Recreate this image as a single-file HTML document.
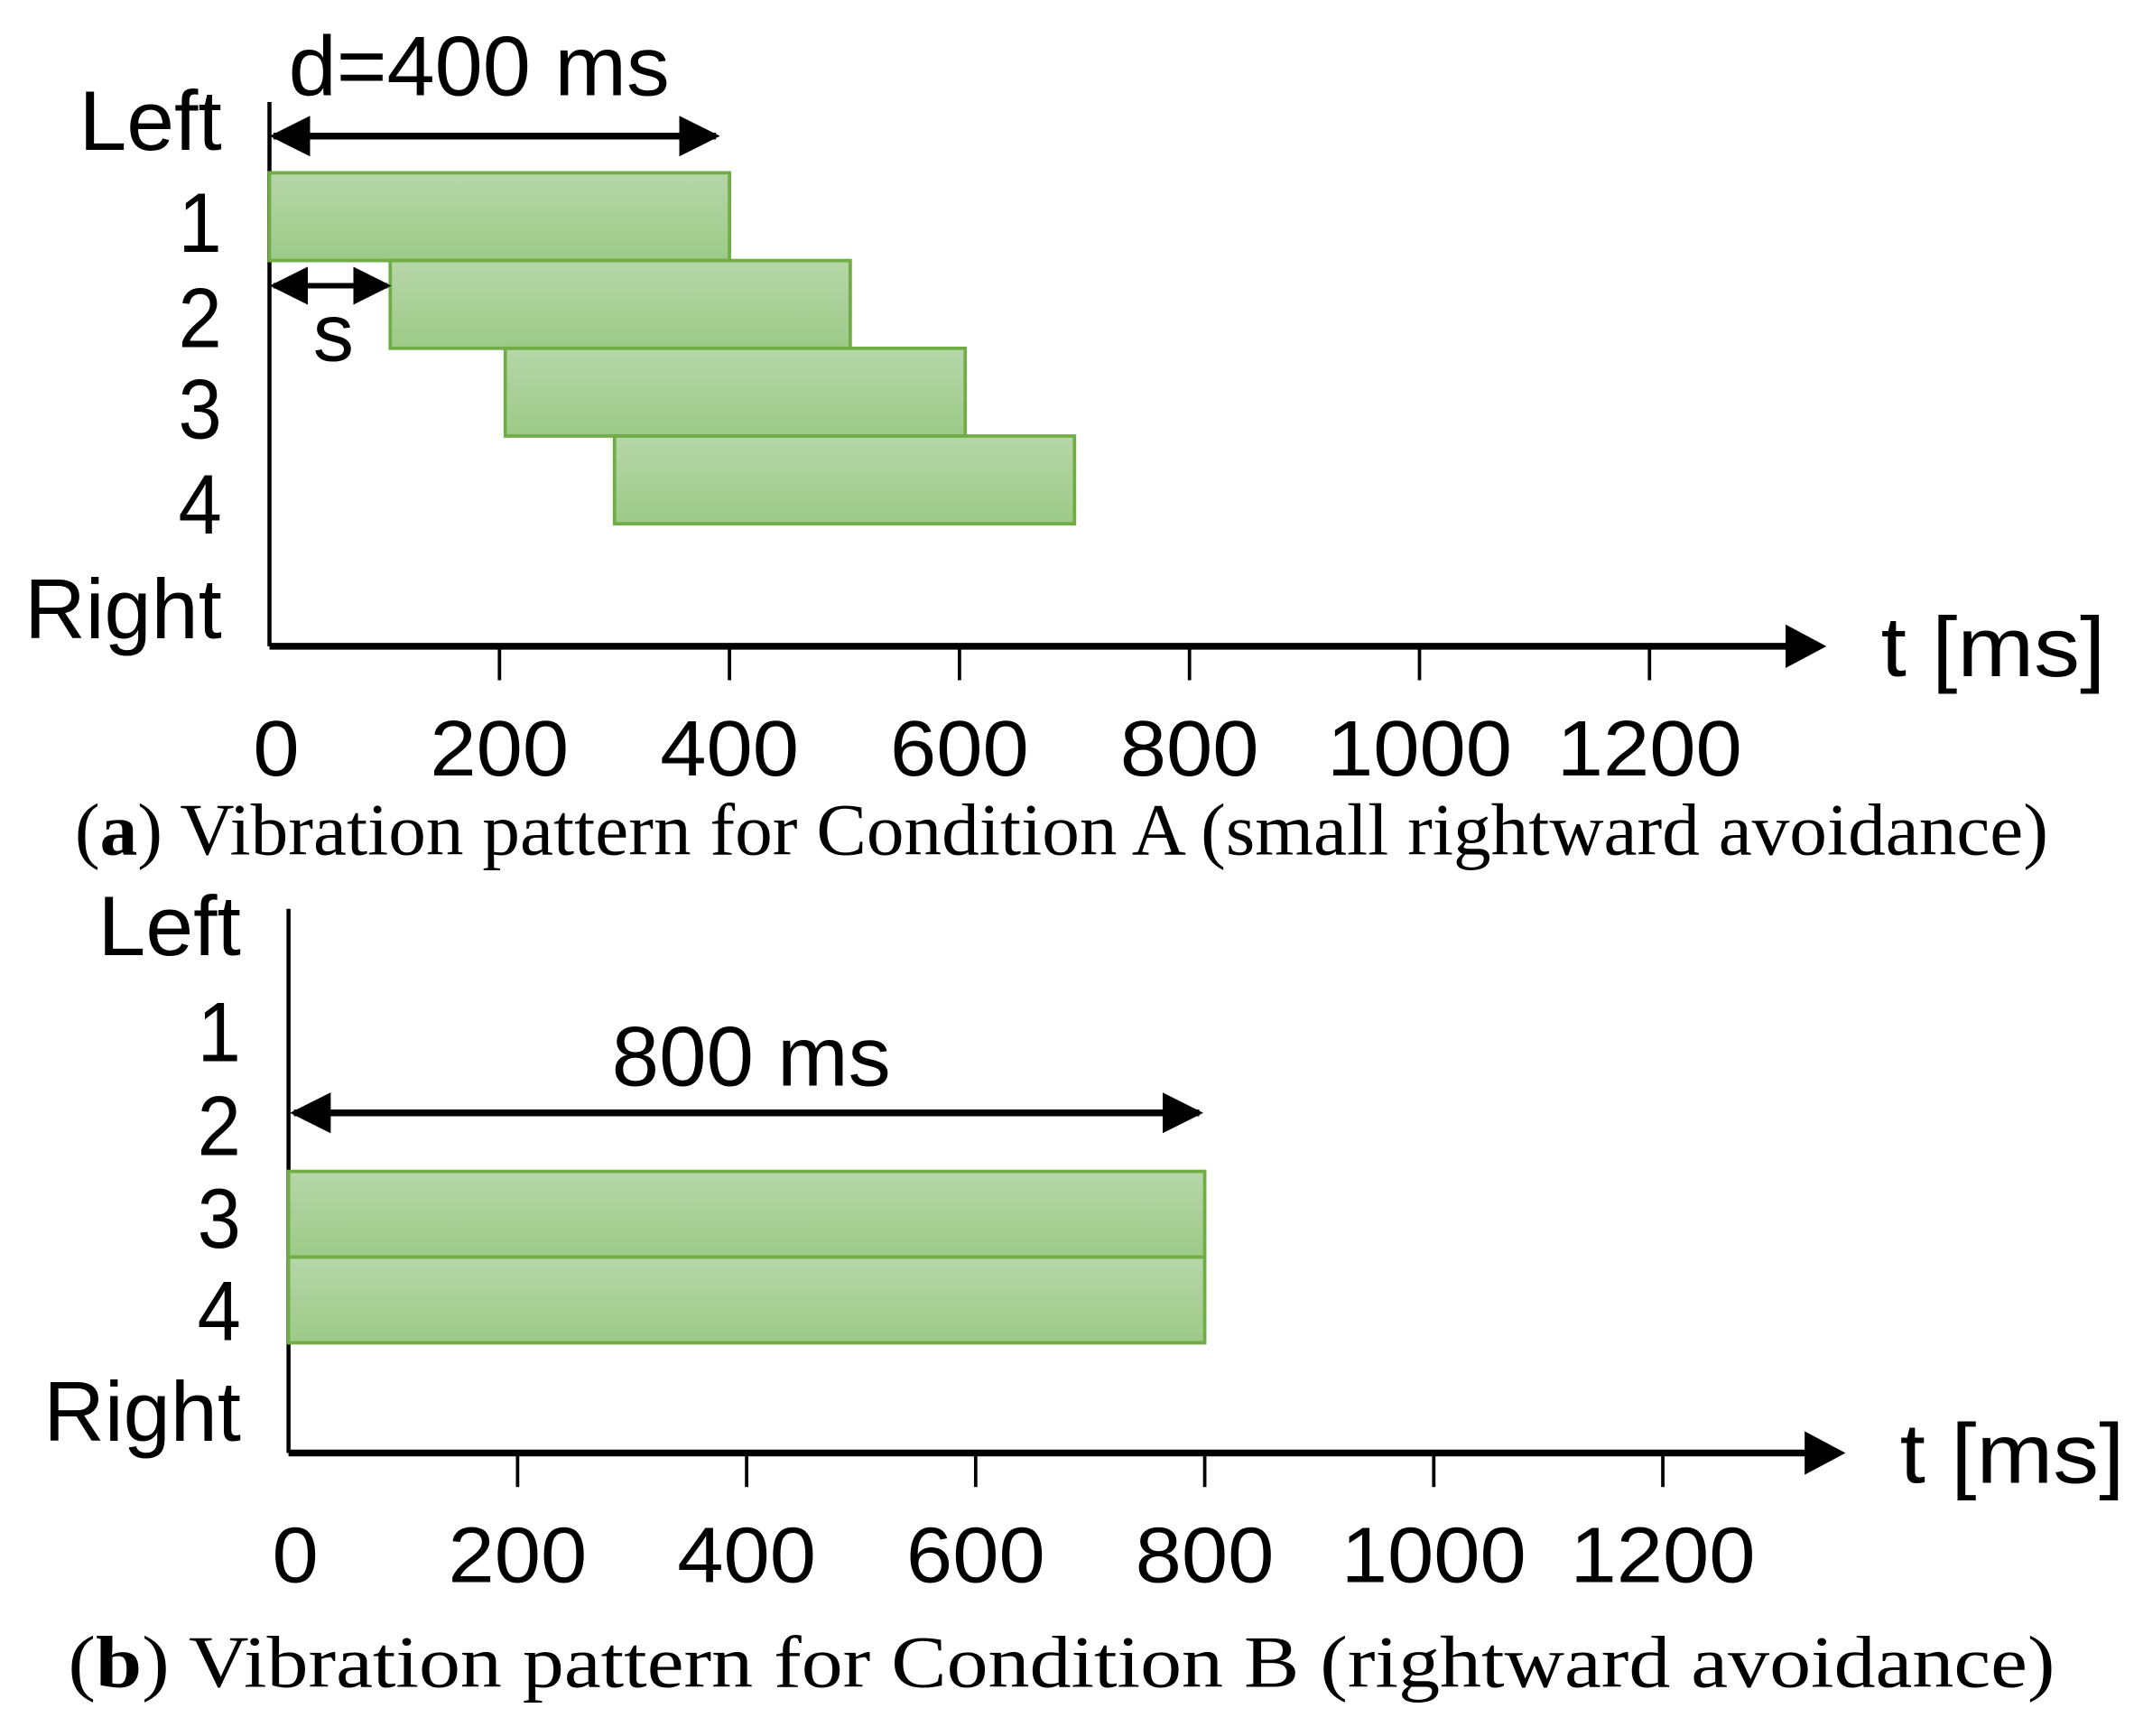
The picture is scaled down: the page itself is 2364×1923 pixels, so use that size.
<!DOCTYPE html>
<html><head><meta charset="utf-8"><style>
html,body{margin:0;padding:0;background:#fff;}
svg{display:block;}
.lab{font-family:"Liberation Sans",sans-serif;fill:#000;}
.cap{font-family:"Liberation Serif",serif;fill:#000;}
</style></head><body>
<svg id="fig" width="2364" height="1923" viewBox="0 0 1568 1276" preserveAspectRatio="none" xmlns="http://www.w3.org/2000/svg">
<defs>
<linearGradient id="g" x1="0" y1="0" x2="0" y2="1"><stop offset="0" stop-color="#b6d6a8"/><stop offset="1" stop-color="#9dca88"/></linearGradient>
<marker id="ah" viewBox="0 0 10 10" refX="9" refY="5" markerWidth="6" markerHeight="6" orient="auto-start-reverse"><path d="M0,0 L10,5 L0,10 z" fill="#000"/></marker>
<marker id="ah2" viewBox="0 0 10 10" refX="9" refY="5" markerWidth="7" markerHeight="7" orient="auto-start-reverse"><path d="M0,0 L10,5 L0,10 z" fill="#000"/></marker>
</defs>
<g id="panelA"></g>
<g id="panelB"></g>
</svg>
<script>
const ticks = [0, 200, 400, 600, 800, 1000, 1200];
const rowLabels = ["Left", "1", "2", "3", "4", "Right"];
const aStarts = [0, 105, 205, 300];
const aDurations = [400, 400, 400, 400];
const aRows = [1, 2, 3, 4];
const bStarts = [0, 0];
const bDurations = [800, 800];
const bRows = [3, 4];

const NS = "http://www.w3.org/2000/svg";
function mk(parent, tag, attrs, text) {
  const e = document.createElementNS(NS, tag);
  for (const k in attrs) e.setAttribute(k, attrs[k]);
  if (text !== undefined) e.textContent = text;
  parent.appendChild(e);
  return e;
}
function panel(g, cfg, starts, durs, rows, prefix) {
  const xs = v => cfg.x0 + v * cfg.kx;
  const ya = mk(g, "line", {x1: cfg.x0, y1: cfg.yTop, x2: cfg.x0, y2: cfg.yAxis, stroke: "#000", "stroke-width": 3});
  
  
  const xa = mk(g, "line", {x1: cfg.x0, y1: cfg.yAxis, x2: cfg.xEnd - 22, y2: cfg.yAxis, stroke: "#000", "stroke-width": 5});
  
  
  const ah = mk(g, "path", {d: `M${cfg.xEnd-30},${cfg.yAxis-16} L${cfg.xEnd},${cfg.yAxis} L${cfg.xEnd-30},${cfg.yAxis+16} z`, fill: "#000"});
  
  
  ticks.forEach((t, i) => {
    if (t > 0) {
      const tl = mk(g, "line", {x1: xs(t), y1: cfg.yAxis, x2: xs(t), y2: cfg.yAxis + 25, stroke: "#000", "stroke-width": 2.5});
      
      
    }
    const tx = mk(g, "text", {x: xs(t) + (t === 0 ? 5 : 0), y: cfg.yAxis + 95, "font-size": 58, "text-anchor": "middle", class: "lab", textLength: String(t).length * 34, lengthAdjust: "spacingAndGlyphs"}, String(t));
    
    
  });
  const tt = mk(g, "text", {x: cfg.xEnd + 40, y: cfg.yAxis + 22, "font-size": 62, class: "lab", textLength: 165, lengthAdjust: "spacingAndGlyphs"}, "t [ms]");
  
  
  rowLabels.forEach((r, i) => {
    const t = mk(g, "text", {x: cfg.x0 - 35, y: cfg.rowY[i] + 22, "font-size": 62, "text-anchor": "end", class: "lab", textLength: r.length === 1 ? 32 : (r === "Left" ? 105 : 145), lengthAdjust: "spacingAndGlyphs"}, r);
    
    
  });
  starts.forEach((s, i) => {
    const r = rows[i];
    const y0 = cfg.barTop + (r - cfg.firstRow) * cfg.rowH;
    const b = mk(g, "rect", {x: xs(s), y: y0, width: durs[i] * cfg.kx, height: cfg.rowH, fill: "url(#g)", stroke: "#70ad47", "stroke-width": 2.5});
    
    
  });
  const c = mk(g, "text", {x: cfg.capX, y: cfg.capY, "font-size": 54, class: "cap", textLength: cfg.capW, lengthAdjust: "spacingAndGlyphs"});
  
  
  mk(c, "tspan", {}, "(");
  mk(c, "tspan", {"font-weight": "bold"}, cfg.capLetter);
  mk(c, "tspan", {}, ") " + cfg.capText);
  return xs;
}

const gA = document.getElementById("panelA");
const xsA = panel(gA, {x0: 198, kx: 0.845, yTop: 75, yAxis: 475, xEnd: 1342,
  rowY: [88, 163, 233, 300, 370, 447], barTop: 127, rowH: 64.5, firstRow: 1,
  capX: 55, capY: 628, capW: 1450, capLetter: "a", capText: "Vibration pattern for Condition A (small rightward avoidance)"},
  aStarts, aDurations, aRows, "panel-a");
let e = mk(gA, "line", {x1: xsA(0) + 3, y1: 100, x2: xsA(400) - 10, y2: 100, stroke: "#000", "stroke-width": 5, "marker-start": "url(#ah)", "marker-end": "url(#ah)"});


e = mk(gA, "text", {x: 352, y: 70, "font-size": 62, "text-anchor": "middle", class: "lab", textLength: 280, lengthAdjust: "spacingAndGlyphs"}, "d=400 ms");


e = mk(gA, "line", {x1: xsA(0) + 3, y1: 210, x2: xsA(aStarts[1]) - 2, y2: 210, stroke: "#000", "stroke-width": 4, "marker-start": "url(#ah2)", "marker-end": "url(#ah2)"});


e = mk(gA, "text", {x: 245, y: 265, "font-size": 60, "text-anchor": "middle", class: "lab"}, "s");



const gB = document.getElementById("panelB");
const xsB = panel(gB, {x0: 212, kx: 0.8415, yTop: 668, yAxis: 1068, xEnd: 1356,
  rowY: [680, 758, 827, 895, 963, 1037], barTop: 861, rowH: 63, firstRow: 3,
  capX: 50, capY: 1240, capW: 1460, capLetter: "b", capText: "Vibration pattern for Condition B (rightward avoidance)"},
  bStarts, bDurations, bRows, "panel-b");
e = mk(gB, "line", {x1: xsB(0) + 4, y1: 818, x2: xsB(800) - 4, y2: 818, stroke: "#000", "stroke-width": 5, "marker-start": "url(#ah)", "marker-end": "url(#ah)"});


e = mk(gB, "text", {x: 552, y: 798, "font-size": 62, "text-anchor": "middle", class: "lab", textLength: 205, lengthAdjust: "spacingAndGlyphs"}, "800 ms");


</script>
</body></html>
